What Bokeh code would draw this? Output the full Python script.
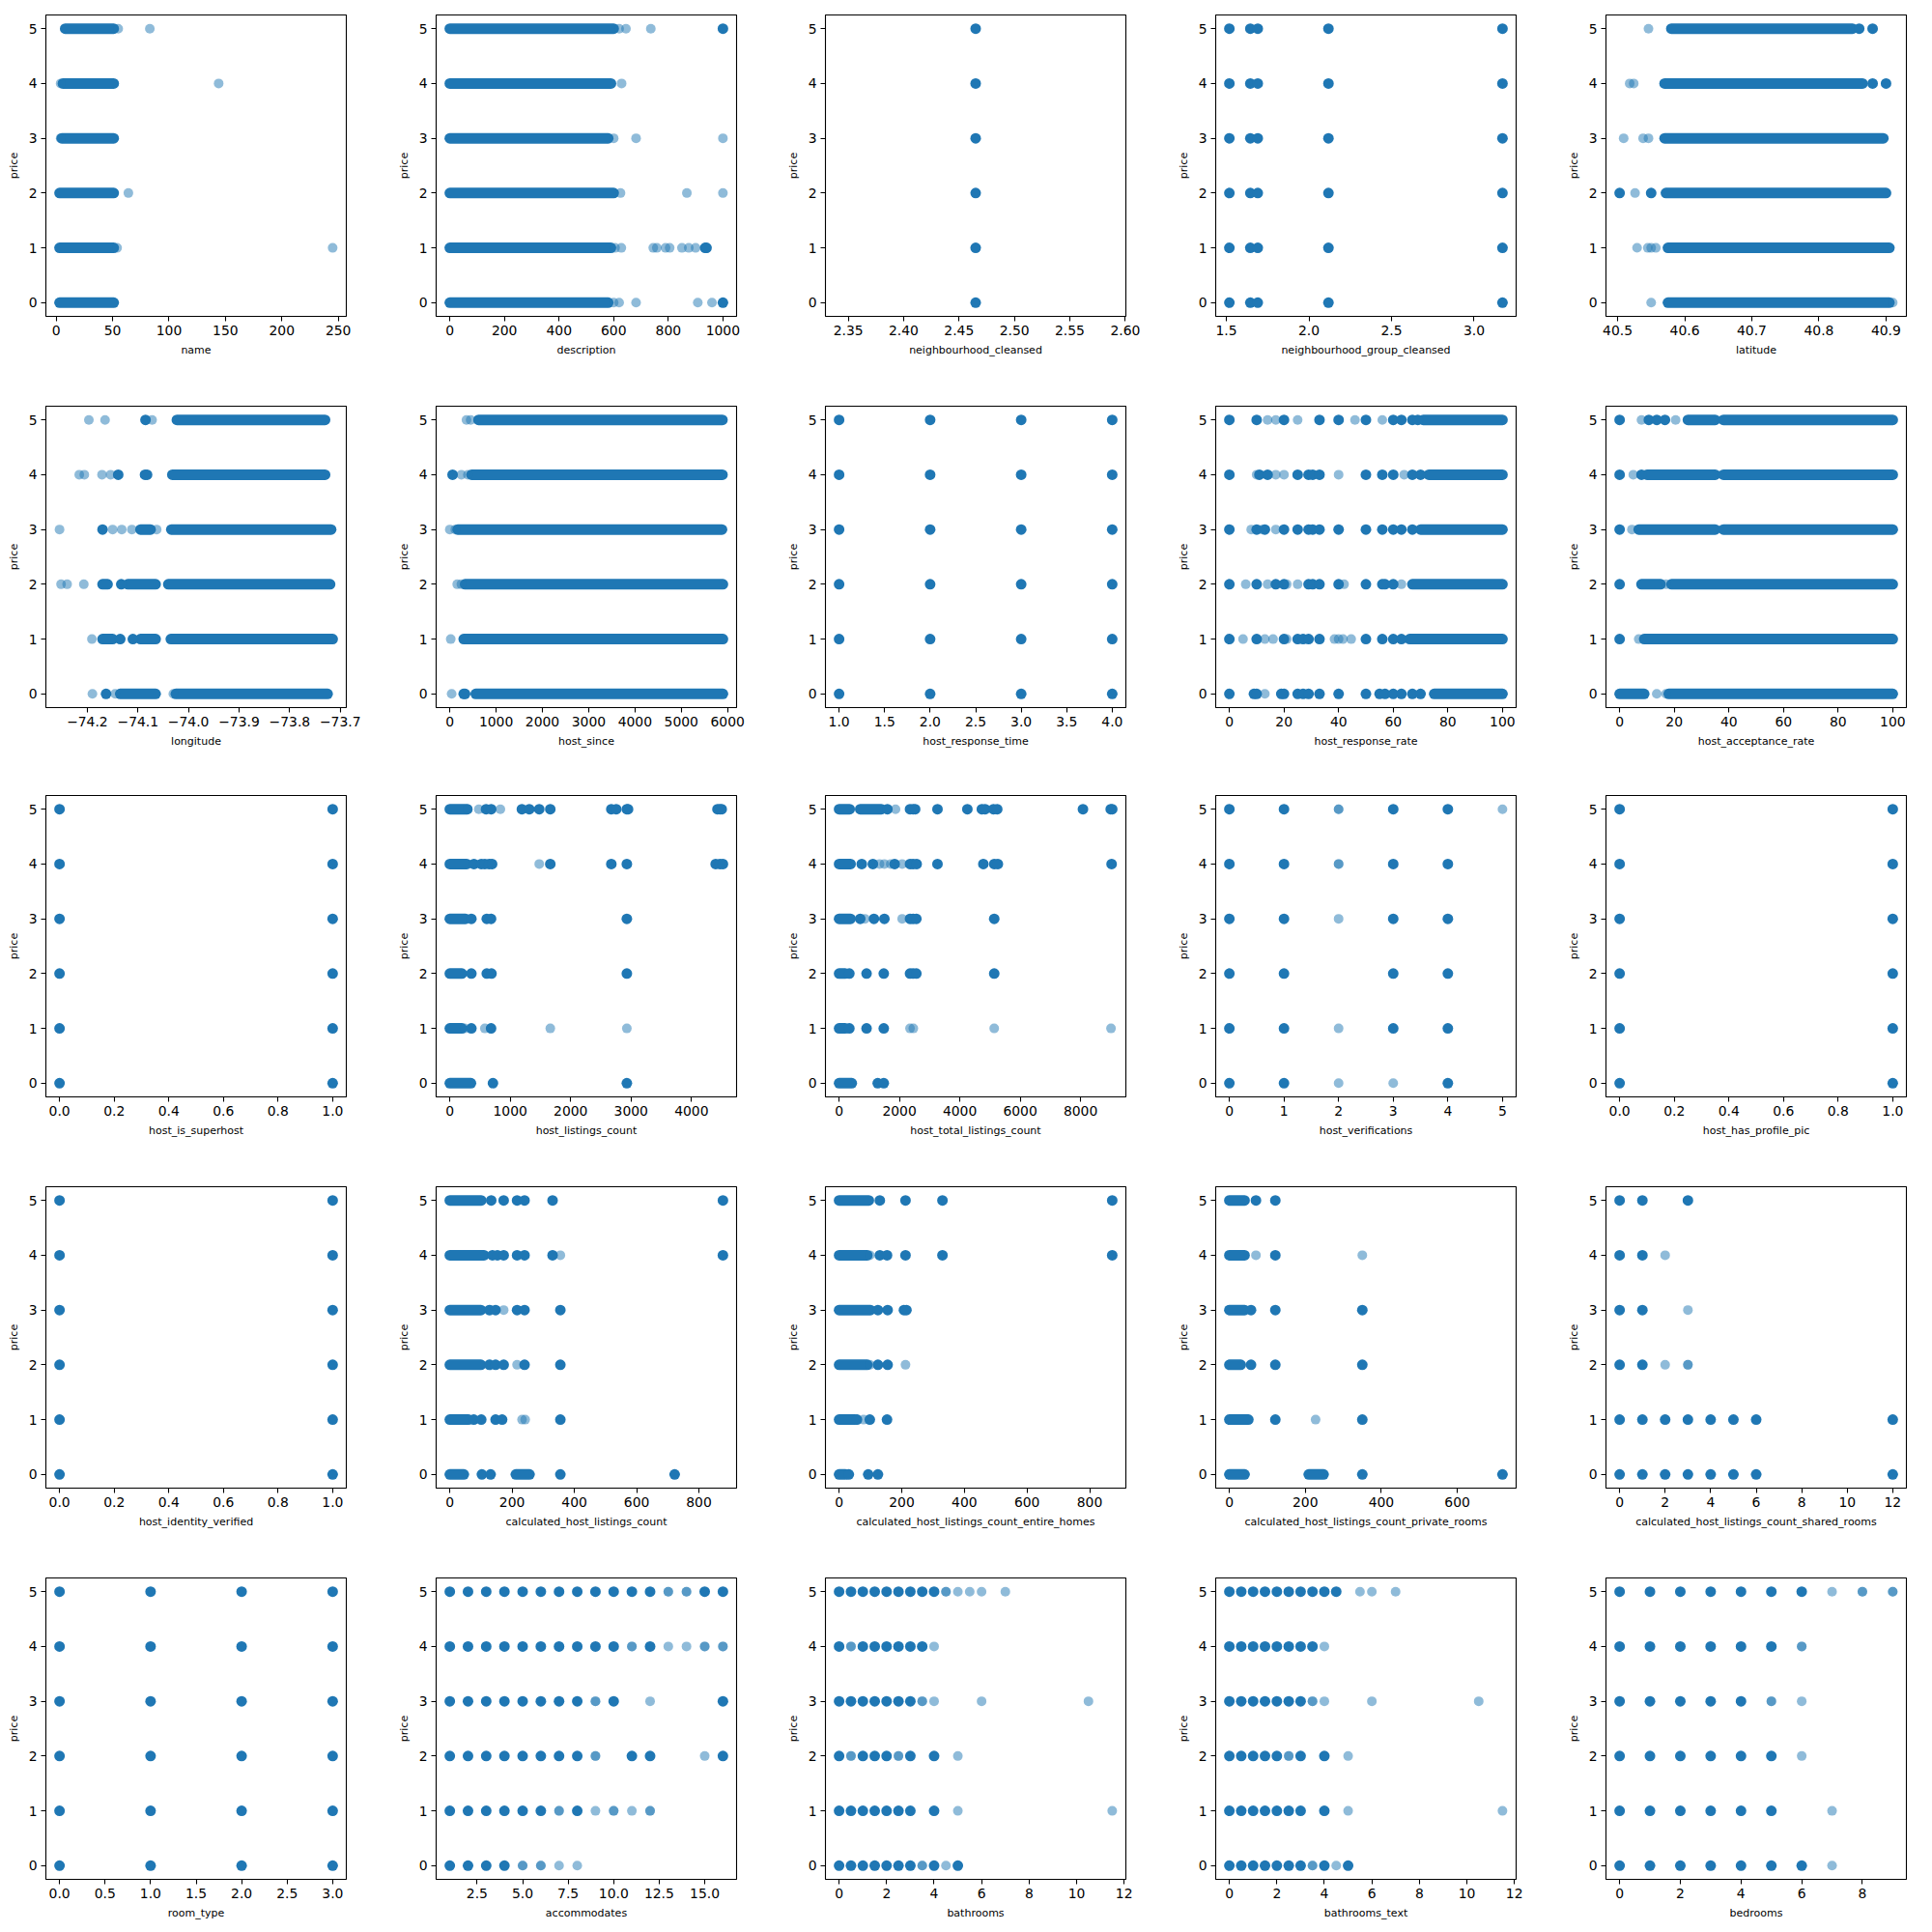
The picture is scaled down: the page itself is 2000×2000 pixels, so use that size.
import json
from bokeh.plotting import figure
from bokeh.layouts import gridplot
from bokeh.models import FixedTicker, Range1d, CustomJSTickFormatter
from bokeh.embed import file_html
from bokeh.resources import INLINE

PRICE_LEVELS = [0, 1, 2, 3, 4, 5]
PRICE_TICKS = [0, 1, 2, 3, 4, 5]

# ---- name ----
NAME_BANDS = [[(3, 51)], [(3, 51)], [(3, 51)], [(5, 51)], [(6, 51)], [(8, 51)]]
NAME_HEAVY = [[], [], [], [], [], []]
NAME_LIGHT = [[], [54, 245], [64], [4], [4, 144], [55, 83]]
NAME_TICKS = [0, 50, 100, 150, 200, 250]

# ---- description ----
DESC_BANDS = [[(0, 580)], [(0, 590)], [(0, 600)], [(0, 580)], [(0, 590)], [(0, 600)]]
DESC_HEAVY = [[1000], [935, 940], [], [], [], [1000]]
DESC_LIGHT = [[600, 620, 682, 908, 960], [605, 628, 745, 758, 790, 805, 850, 875, 900],
              [625, 868, 1000], [600, 682, 1000], [629], [620, 645, 736]]
DESC_TICKS = [0, 200, 400, 600, 800, 1000]

# ---- neighbourhood_cleansed ----
NC_BANDS = [[], [], [], [], [], []]
NC_HEAVY = [[2.465], [2.465], [2.465], [2.465], [2.465], [2.465]]
NC_LIGHT = [[], [], [], [], [], []]
NC_TICKS = [2.35, 2.40, 2.45, 2.50, 2.55, 2.60]
NC_LABELS = ["2.35", "2.40", "2.45", "2.50", "2.55", "2.60"]

# ---- neighbourhood_group_cleansed ----
NGC_BANDS = [[], [], [], [], [], []]
NGC_HEAVY = [[1.518, 1.645, 1.69, 2.118, 3.172]] * 6
NGC_LIGHT = [[], [], [], [], [], []]
NGC_TICKS = [1.5, 2.0, 2.5, 3.0]

# ---- latitude ----
LAT_BANDS = [[(40.575, 40.905)], [(40.575, 40.905)], [(40.572, 40.90)],
             [(40.57, 40.896)], [(40.57, 40.865)], [(40.58, 40.85)]]
LAT_HEAVY = [[], [], [40.503, 40.55], [], [40.88, 40.90], [40.86, 40.88]]
LAT_LIGHT = [[40.55, 40.91], [40.529, 40.545, 40.55, 40.557], [40.526],
             [40.509, 40.538, 40.546], [40.518, 40.524], [40.546]]
LAT_TICKS = [40.5, 40.6, 40.7, 40.8, 40.9]

# ---- longitude ----
LON_BANDS = [[(-74.135, -74.065), (-74.025, -73.725)],
             [(-74.17, -74.15), (-74.095, -74.065), (-74.035, -73.715)],
             [(-74.17, -74.16), (-74.12, -74.065), (-74.04, -73.72)],
             [(-74.095, -74.075), (-74.034, -73.718)],
             [(-74.032, -73.73)],
             [(-74.023, -73.73)]]
LON_HEAVY = [[-74.163], [-74.135, -74.11], [-74.133], [-74.17],
             [-74.139, -74.086, -74.082], [-74.085]]
LON_LIGHT = [[-74.19, -74.145, -74.03], [-74.191], [-74.252, -74.24, -74.207],
             [-74.255, -74.15, -74.132, -74.112, -74.063],
             [-74.216, -74.206, -74.171, -74.154], [-74.197, -74.165, -74.072]]
LON_TICKS = [-74.2, -74.1, -74.0, -73.9, -73.8, -73.7]
LON_LABELS = ["\u221274.2", "\u221274.1", "\u221274.0", "\u221273.9", "\u221273.8", "\u221273.7"]

# ---- host_since ----
HS_BANDS = [[(560, 5900)], [(300, 5900)], [(330, 5900)], [(170, 5880)], [(470, 5890)], [(620, 5890)]]
HS_HEAVY = [[300, 330], [], [], [], [60], []]
HS_LIGHT = [[40], [20], [160, 250], [0, 120], [250, 390], [360, 450]]
HS_TICKS = [0, 1000, 2000, 3000, 4000, 5000, 6000]

# ---- host_response_time ----
HRT_BANDS = [[], [], [], [], [], []]
HRT_HEAVY = [[1, 2, 3, 4]] * 6
HRT_LIGHT = [[], [], [], [], [], []]
HRT_TICKS = [1.0, 1.5, 2.0, 2.5, 3.0, 3.5, 4.0]

# ---- host_response_rate ----
HRR_BANDS = [[(75, 100)], [(66, 100)], [(67, 100)], [(70, 100)], [(73, 100)], [(71, 100)]]
HRR_HEAVY = [[0, 9, 10, 19, 20, 25, 27, 29, 33, 40, 50, 55, 57, 60, 63, 67, 70],
             [0, 10, 20, 25, 27, 29, 33, 50, 56, 60, 63],
             [0, 10, 17, 20, 29, 30.5, 33, 40, 50, 56, 57, 60],
             [0, 10, 13, 20, 25, 29, 30.5, 33, 40, 50, 56, 60, 63, 67],
             [0, 11, 14, 25, 29, 30.5, 33, 50, 56, 60, 67, 70],
             [0, 10, 20, 33, 40, 50, 60, 63, 67, 69]]
HRR_LIGHT = [[13], [5, 13, 16, 21, 38.5, 40, 41.6, 44.6], [6, 14, 21, 25, 42, 63],
             [8, 12, 17], [10, 17, 20, 40, 64], [14, 17, 25, 46, 56]]
HRR_TICKS = [0, 20, 40, 60, 80, 100]

# ---- host_acceptance_rate ----
HAR_BANDS = [[(0, 9), (18, 100)], [(9, 100)], [(8, 15), (19, 100)], [(7, 35), (38, 100)],
             [(10, 35), (38, 100)], [(25, 35), (38, 100)]]
HAR_HEAVY = [[], [0], [0], [0], [0, 8], [0, 10.7, 13.6, 16.6]]
HAR_LIGHT = [[13.6, 17], [7], [17], [4.5], [5], [8, 20.5]]
HAR_TICKS = [0, 20, 40, 60, 80, 100]

# ---- host_is_superhost ----
SH_BANDS = [[], [], [], [], [], []]
SH_HEAVY = [[0, 1]] * 6
SH_LIGHT = [[], [], [], [], [], []]
UNIT_TICKS = [0.0, 0.2, 0.4, 0.6, 0.8, 1.0]

# ---- host_listings_count ----
HLC_BANDS = [[(0, 350)], [(0, 200)], [(0, 200)], [(0, 260)], [(0, 280)], [(0, 290)]]
HLC_HEAVY = [[714, 2930], [357, 683], [357, 612, 690, 2930], [357, 612, 683, 2930],
             [400, 520, 580, 650, 700, 1663, 2673, 2930, 4400, 4470, 4520],
             [600, 685, 1193, 1316, 1480, 1663, 2673, 2755, 2930, 2950, 4430, 4470, 4500]]
HLC_LIGHT = [[], [245, 580, 1663, 2930], [], [], [1480], [296, 480, 837]]
HLC_TICKS = [0, 1000, 2000, 3000, 4000]

# ---- host_total_listings_count ----
HTLC_BANDS = [[(0, 420)], [(0, 200)], [(0, 200)], [(0, 380)], [(0, 380)], [(0, 350), (700, 1400)]]
HTLC_HEAVY = [[1280, 1480], [340, 910, 1480], [340, 910, 1480, 2350, 2450, 2560, 5140],
              [700, 1155, 1500, 2350, 2450, 2560, 5140],
              [750, 1120, 1840, 2350, 2450, 2570, 3260, 4780, 5140, 5260, 9030],
              [1600, 2350, 2450, 2520, 3260, 4250, 4730, 4840, 5115, 5240, 8080, 9000, 9050]]
HTLC_LIGHT = [[], [2350, 2460, 5140, 9010], [], [855, 2090], [1340, 1500, 1710, 2090], [1870]]
HTLC_TICKS = [0, 2000, 4000, 6000, 8000]

# ---- host_verifications ----
HV_BANDS = [[], [], [], [], [], []]
HV_HEAVY = [[0, 1, 4], [0, 1, 3, 4], [0, 1, 3, 4], [0, 1, 3, 4], [0, 1, 3, 4], [0, 1, 3, 4]]
HV_LIGHT = [[2, 3], [2], [], [2], [2, 2], [2, 2, 5]]
HV_TICKS = [0, 1, 2, 3, 4, 5]

# ---- host_has_profile_pic / host_identity_verified ----
PP_BANDS = [[], [], [], [], [], []]
PP_HEAVY = [[0, 1]] * 6
PP_LIGHT = [[], [], [], [], [], []]
IV_BANDS = [[], [], [], [], [], []]
IV_HEAVY = [[0, 1]] * 6
IV_LIGHT = [[], [], [], [], [], []]

# ---- calculated_host_listings_count ----
CHLC_BANDS = [[(0, 45), (212, 256)], [(0, 60)], [(0, 100)], [(0, 100)], [(0, 110)], [(0, 101)]]
CHLC_HEAVY = [[103, 131, 355, 722], [77, 101, 147, 168, 355], [127, 147, 173, 240, 355],
              [127, 147, 216, 240, 355], [137, 153, 173, 216, 240, 330, 877],
              [133, 173, 216, 240, 330, 877]]
CHLC_LIGHT = [[], [232, 242], [216], [173], [355], []]
CHLC_TICKS = [0, 200, 400, 600, 800]

# ---- calculated_host_listings_count_entire_homes ----
ENT_BANDS = [[(0, 20)], [(0, 50)], [(0, 90)], [(0, 100)], [(0, 90)], [(0, 95)]]
ENT_HEAVY = [[31, 93, 124], [57, 98, 153], [124, 155], [124, 155, 207, 215],
             [130, 153, 212, 330, 872], [130, 212, 330, 872]]
ENT_LIGHT = [[], [78], [98, 212], [], [98], []]
ENT_TICKS = [0, 200, 400, 600, 800]

# ---- calculated_host_listings_count_private_rooms ----
PRV_BANDS = [[(0, 40), (209, 248)], [(0, 50)], [(0, 30)], [(0, 40)], [(0, 40)], [(0, 40)]]
PRV_HEAVY = [[350, 719], [121, 350], [57, 121, 350], [57, 121, 350], [121], [70, 121]]
PRV_LIGHT = [[], [227], [], [], [70, 350], []]
PRV_TICKS = [0, 200, 400, 600]

# ---- calculated_host_listings_count_shared_rooms ----
SHR_BANDS = [[], [], [], [], [], []]
SHR_HEAVY = [[0, 1, 2, 3, 4, 5, 6, 12], [0, 1, 2, 3, 4, 5, 6, 12], [0, 1], [0, 1], [0, 1], [0, 1, 3]]
SHR_LIGHT = [[], [], [2, 3, 3], [3], [2], []]
SHR_TICKS = [0, 2, 4, 6, 8, 10, 12]

# ---- room_type ----
RT_BANDS = [[], [], [], [], [], []]
RT_HEAVY = [[0, 1, 2, 3]] * 6
RT_LIGHT = [[], [], [], [], [], []]
RT_TICKS = [0.0, 0.5, 1.0, 1.5, 2.0, 2.5, 3.0]

# ---- accommodates ----
ACC_BANDS = [[], [], [], [], [], []]
ACC_HEAVY = [[1, 2, 3, 4], [1, 2, 3, 4, 5, 6, 8], [1, 2, 3, 4, 5, 6, 7, 8, 11, 12, 16],
             [1, 2, 3, 4, 5, 6, 7, 8, 10, 16], [1, 2, 3, 4, 5, 6, 7, 8, 9, 10, 12],
             [1, 2, 3, 4, 5, 6, 7, 8, 9, 10, 11, 12, 15, 16]]
ACC_LIGHT = [[5, 5, 6, 6, 7, 8], [7, 7, 9, 10, 10, 11, 12, 12], [9, 9, 15], [9, 9, 12],
             [11, 11, 13, 14, 15, 15, 16, 16], [13, 13, 14, 14]]
ACC_TICKS = [2.5, 5.0, 7.5, 10.0, 12.5, 15.0]

# ---- bathrooms ----
BATH_BANDS = [[], [], [], [], [], []]
BATH_HEAVY = [[0, 0.5, 1, 1.5, 2, 2.5, 3, 4, 5], [0, 0.5, 1, 1.5, 2, 2.5, 3, 4],
              [0, 1, 1.5, 2, 3, 4], [0, 0.5, 1, 1.5, 2, 2.5, 3],
              [0, 1, 1.5, 2, 2.5, 3, 3.5], [0, 0.5, 1, 1.5, 2, 2.5, 3, 3.5, 4]]
BATH_LIGHT = [[3.5, 3.5, 4.5], [5, 11.5], [0.5, 0.5, 2.5, 2.5, 5], [3.5, 3.5, 4, 6, 10.5],
              [0.5, 0.5, 4], [4.5, 4.5, 5, 5.5, 6, 7]]
BATH_TICKS = [0, 2, 4, 6, 8, 10, 12]

# ---- bathrooms_text ----
BT_BANDS = [[], [], [], [], [], []]
BT_HEAVY = [[0, 0.5, 1, 1.5, 2, 2.5, 3, 4, 5], [0, 0.5, 1, 1.5, 2, 2.5, 3, 4],
            [0, 0.5, 1, 1.5, 2, 3, 4], [0, 0.5, 1, 1.5, 2, 2.5, 3],
            [0, 0.5, 1, 1.5, 2, 2.5, 3, 3.5], [0, 0.5, 1, 1.5, 2, 2.5, 3, 3.5, 4, 4.5]]
BT_LIGHT = [[3.5, 3.5, 4.5], [5, 11.5], [2.5, 2.5, 5], [3.5, 3.5, 4, 6, 10.5], [4], [5.5, 6, 7]]
BT_TICKS = [0, 2, 4, 6, 8, 10, 12]

# ---- bedrooms ----
BED_BANDS = [[], [], [], [], [], []]
BED_HEAVY = [[0, 1, 2, 3, 4, 5, 6], [0, 1, 2, 3, 4, 5], [0, 1, 2, 3, 4, 5], [0, 1, 2, 3, 4],
             [0, 1, 2, 3, 4, 5], [0, 1, 2, 3, 4, 5, 6]]
BED_LIGHT = [[7], [7], [6], [5, 5, 6], [6, 6], [7, 8, 8, 9, 9]]
BED_TICKS = [0, 2, 4, 6, 8]

PANELS = [
    ("name", NAME_BANDS, NAME_HEAVY, NAME_LIGHT, NAME_TICKS, None),
    ("description", DESC_BANDS, DESC_HEAVY, DESC_LIGHT, DESC_TICKS, None),
    ("neighbourhood_cleansed", NC_BANDS, NC_HEAVY, NC_LIGHT, NC_TICKS, NC_LABELS),
    ("neighbourhood_group_cleansed", NGC_BANDS, NGC_HEAVY, NGC_LIGHT, NGC_TICKS, None),
    ("latitude", LAT_BANDS, LAT_HEAVY, LAT_LIGHT, LAT_TICKS, None),
    ("longitude", LON_BANDS, LON_HEAVY, LON_LIGHT, LON_TICKS, LON_LABELS),
    ("host_since", HS_BANDS, HS_HEAVY, HS_LIGHT, HS_TICKS, None),
    ("host_response_time", HRT_BANDS, HRT_HEAVY, HRT_LIGHT, HRT_TICKS, None),
    ("host_response_rate", HRR_BANDS, HRR_HEAVY, HRR_LIGHT, HRR_TICKS, None),
    ("host_acceptance_rate", HAR_BANDS, HAR_HEAVY, HAR_LIGHT, HAR_TICKS, None),
    ("host_is_superhost", SH_BANDS, SH_HEAVY, SH_LIGHT, UNIT_TICKS, None),
    ("host_listings_count", HLC_BANDS, HLC_HEAVY, HLC_LIGHT, HLC_TICKS, None),
    ("host_total_listings_count", HTLC_BANDS, HTLC_HEAVY, HTLC_LIGHT, HTLC_TICKS, None),
    ("host_verifications", HV_BANDS, HV_HEAVY, HV_LIGHT, HV_TICKS, None),
    ("host_has_profile_pic", PP_BANDS, PP_HEAVY, PP_LIGHT, UNIT_TICKS, None),
    ("host_identity_verified", IV_BANDS, IV_HEAVY, IV_LIGHT, UNIT_TICKS, None),
    ("calculated_host_listings_count", CHLC_BANDS, CHLC_HEAVY, CHLC_LIGHT, CHLC_TICKS, None),
    ("calculated_host_listings_count_entire_homes", ENT_BANDS, ENT_HEAVY, ENT_LIGHT, ENT_TICKS, None),
    ("calculated_host_listings_count_private_rooms", PRV_BANDS, PRV_HEAVY, PRV_LIGHT, PRV_TICKS, None),
    ("calculated_host_listings_count_shared_rooms", SHR_BANDS, SHR_HEAVY, SHR_LIGHT, SHR_TICKS, None),
    ("room_type", RT_BANDS, RT_HEAVY, RT_LIGHT, RT_TICKS, None),
    ("accommodates", ACC_BANDS, ACC_HEAVY, ACC_LIGHT, ACC_TICKS, None),
    ("bathrooms", BATH_BANDS, BATH_HEAVY, BATH_LIGHT, BATH_TICKS, None),
    ("bathrooms_text", BT_BANDS, BT_HEAVY, BT_LIGHT, BT_TICKS, None),
    ("bedrooms", BED_BANDS, BED_HEAVY, BED_LIGHT, BED_TICKS, None),
]

COLOR = "#1f77b4"
FONT = "DejaVu Sans"
MARK_HEAVY = 11
MARK_LIGHT = 10
RIGHT_BORDERS = [46, 45, 46, 46, 27]
BOTTOM_BORDERS = [78, 76, 78, 78, 55]


def fmt_labels(ticks):
    dec = 0
    for t in ticks:
        s = repr(float(t))
        frac = s.split(".")[1].rstrip("0")
        dec = max(dec, len(frac))
    out = []
    for t in ticks:
        s = f"{t:.{dec}f}"
        out.append(s.replace("-", "\u2212"))
    return out


def make_panel(idx, label, bands, heavy, light, ticks, labels):
    r, c = divmod(idx, 5)
    xs = []
    for lvl in range(6):
        for b in bands[lvl]:
            xs += list(b)
        xs += list(heavy[lvl]) + list(light[lvl])
    lo, hi = min(xs), max(xs)
    if lo == hi:
        lo, hi = lo - 0.05 * abs(lo), hi + 0.05 * abs(hi)
    pad = (hi - lo) * 0.05
    p = figure(frame_width=311, frame_height=312,
               min_border_left=47, min_border_right=RIGHT_BORDERS[c],
               min_border_top=15, min_border_bottom=BOTTOM_BORDERS[r],
               x_range=Range1d(lo - pad, hi + pad), y_range=Range1d(-0.25, 5.25),
               output_backend="svg", toolbar_location=None, tools="")
    p.grid.visible = False
    p.outline_line_color = "black"
    p.outline_line_width = 1.1
    p.background_fill_color = "white"
    p.border_fill_color = "white"

    bx0, bx1, by = [], [], []
    hx, hy, lx, ly = [], [], [], []
    for lvl, yv in enumerate(PRICE_LEVELS):
        for (a, b) in bands[lvl]:
            bx0.append(a); bx1.append(b); by.append(yv)
        for v in heavy[lvl]:
            hx.append(v); hy.append(yv)
        for v in light[lvl]:
            lx.append(v); ly.append(yv)
    if bx0:
        p.segment(x0=bx0, y0=by, x1=bx1, y1=by, line_color=COLOR,
                  line_width=MARK_HEAVY, line_cap="round")
    if hx:
        p.scatter(hx, hy, size=MARK_HEAVY, fill_color=COLOR, line_color=None)
    if lx:
        p.scatter(lx, ly, size=MARK_LIGHT, fill_color=COLOR, fill_alpha=0.5, line_color=None)

    if labels is None:
        labels = fmt_labels(ticks)
    code = ("const T = %s; const L = %s; let b = 0;"
            "for (let i = 0; i < T.length; i++) { if (Math.abs(T[i] - tick) < Math.abs(T[b] - tick)) b = i; }"
            "return L[b];") % (json.dumps(list(ticks)), json.dumps(labels))
    p.xaxis.ticker = FixedTicker(ticks=list(ticks))
    p.xaxis.formatter = CustomJSTickFormatter(code=code)
    p.yaxis.ticker = FixedTicker(ticks=PRICE_TICKS)
    p.xaxis.axis_label = label
    p.yaxis.axis_label = "price"
    for ax in (p.xaxis, p.yaxis):
        ax.axis_line_color = None
        ax.major_tick_line_color = "black"
        ax.major_tick_line_width = 1.1
        ax.major_tick_out = 5
        ax.major_tick_in = 0
        ax.minor_tick_line_color = None
        ax.major_label_text_font = FONT
        ax.major_label_text_font_size = "13.9px"
        ax.major_label_text_color = "black"
        ax.major_label_standoff = 4
        ax.axis_label_text_font = FONT
        ax.axis_label_text_font_size = "11px"
        ax.axis_label_text_font_style = "normal"
        ax.axis_label_text_color = "black"
        ax.axis_label_standoff = 6
    return p


figs = [make_panel(i, *panel) for i, panel in enumerate(PANELS)]
rows = [figs[i * 5:(i + 1) * 5] for i in range(5)]
layout = gridplot(rows, toolbar_location=None)

with open("out.html", "w") as f:
    f.write(file_html(layout, INLINE))
